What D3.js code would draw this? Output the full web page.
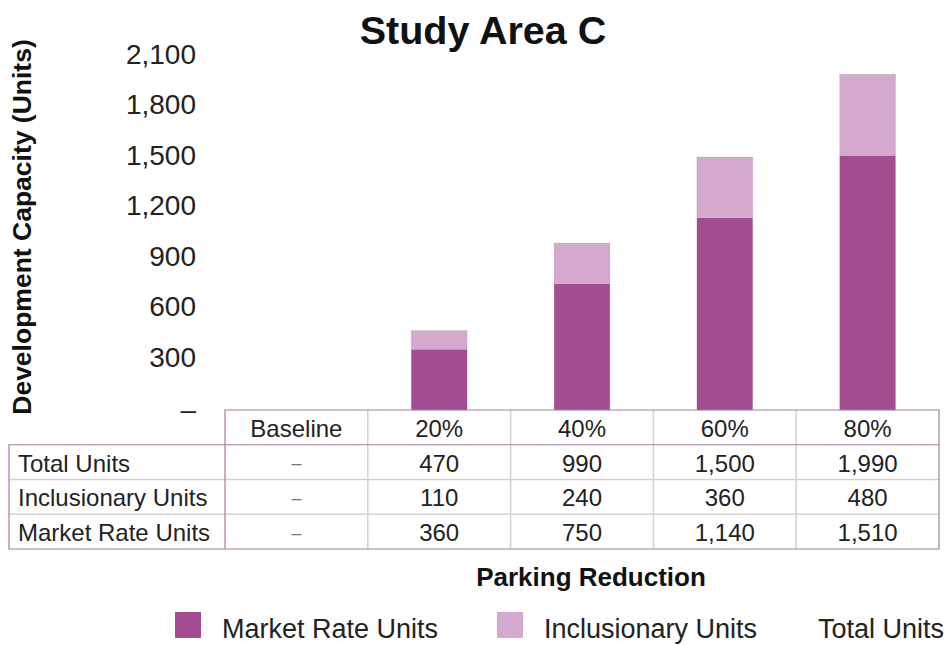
<!DOCTYPE html>
<html>
<head>
<meta charset="utf-8">
<script src="https://cdn.jsdelivr.net/npm/d3@7"></script>
<style>
  html, body { margin: 0; padding: 0; background: #fff; }
  svg { display: block; font-family: "Liberation Sans", Arial, Helvetica, sans-serif; }
</style>
</head>
<body>
<svg id="chart" width="945" height="645"></svg>
<script>
// Parking reduction scenarios and unit counts (null = no development)
const categories = ["Baseline", "20%", "40%", "60%", "80%"];
const marketRate = [null, 360, 750, 1140, 1510];
const inclusionary = [null, 110, 240, 360, 480];
const totalUnits = [null, 470, 990, 1500, 1990];
const yTicks = [0, 300, 600, 900, 1200, 1500, 1800, 2100];
const rowLabels = ["Total Units", "Inclusionary Units", "Market Rate Units"];
const rowSeries = [totalUnits, inclusionary, marketRate];
const legendItems = ["Market Rate Units", "Inclusionary Units", "Total Units"];

const colMarket = "#a24d91";
const colIncl = "#d5a9cd";
const borderCol = "#a77d9f";
const innerCol = "#d6cfd5";

const svg = d3.select("#chart");

const x = d3.scaleBand().domain(categories).range([225, 939]).padding(0);
const y = d3.scaleLinear().domain([0, 2100]).range([410, 56]);
const barW = x.bandwidth() * 0.39;
const fmt = d3.format(",");

// Title
svg.append("text")
  .attr("x", 483).attr("y", 30)
  .attr("text-anchor", "middle").attr("dominant-baseline", "central")
  .attr("font-size", 39.5).attr("font-weight", "bold").attr("fill", "#111")
  .text("Study Area C");

// Y axis title
svg.append("text")
  .attr("transform", "translate(22,227) rotate(-90)")
  .attr("text-anchor", "middle").attr("dominant-baseline", "central")
  .attr("font-size", 26.5).attr("font-weight", "bold").attr("fill", "#111")
  .text("Development Capacity (Units)");

// Y axis (labels only)
const yAxis = d3.axisLeft(y)
  .tickValues(yTicks)
  .tickSize(0)
  .tickPadding(0)
  .tickFormat(d => d === 0 ? "\u2013" : fmt(d));
const yg = svg.append("g").attr("transform", "translate(196,0)").call(yAxis);
yg.select(".domain").remove();
yg.selectAll("text")
  .attr("font-size", 28).attr("font-family", "\"Liberation Sans\", Arial, sans-serif")
  .attr("fill", "#222").attr("dy", d => d === 0 ? "0.3em" : "0.25em");

// Stacked bars
const bars = svg.append("g");
categories.forEach((c, i) => {
  if (marketRate[i] == null) return;
  const bx = x(c) + (x.bandwidth() - barW) / 2;
  bars.append("rect")
    .attr("x", bx).attr("width", barW)
    .attr("y", y(marketRate[i])).attr("height", y(0) - y(marketRate[i]))
    .attr("fill", colMarket);
  bars.append("rect")
    .attr("x", bx).attr("width", barW)
    .attr("y", y(totalUnits[i])).attr("height", y(marketRate[i]) - y(totalUnits[i]))
    .attr("fill", colIncl);
  // thin cap at the top of the stack
  bars.append("rect")
    .attr("x", bx).attr("width", barW)
    .attr("y", y(totalUnits[i])).attr("height", 2)
    .attr("fill", "#c7b9c3");
  // faint side edges
  bars.append("rect")
    .attr("x", bx).attr("width", barW)
    .attr("y", y(totalUnits[i])).attr("height", y(0) - y(totalUnits[i]))
    .attr("fill", "none").attr("stroke", "#8f4a84").attr("stroke-opacity", 0.18).attr("stroke-width", 1);
});

// Data table under the bars
const rows = d3.scaleBand().domain(["head", ...rowLabels]).range([410, 549]);
const table = svg.append("g");
const left = 9, right = 939;

// inner horizontal separators
rowLabels.slice(1).forEach(r => {
  table.append("line")
    .attr("x1", left).attr("x2", right)
    .attr("y1", rows(r)).attr("y2", rows(r))
    .attr("stroke", innerCol).attr("stroke-width", 1.5);
});
// vertical separators between value columns
categories.slice(1).forEach(c => {
  table.append("line")
    .attr("x1", x(c)).attr("x2", x(c))
    .attr("y1", rows("head")).attr("y2", 549)
    .attr("stroke", innerCol).attr("stroke-width", 1.5);
});
// outer borders
const bp = d3.path();
bp.moveTo(x("Baseline"), 549);
bp.lineTo(x("Baseline"), 410);
bp.lineTo(right, 410);
bp.lineTo(right, 549);
bp.lineTo(left, 549);
bp.lineTo(left, rows("Total Units"));
bp.lineTo(right, rows("Total Units"));
table.append("path").attr("d", bp.toString())
  .attr("fill", "none").attr("stroke", borderCol).attr("stroke-width", 1.2);

const cellFont = 24;
// header row
categories.forEach(c => {
  table.append("text")
    .attr("x", x(c) + x.bandwidth() / 2).attr("y", rows("head") + rows.bandwidth() / 2 + 1)
    .attr("text-anchor", "middle").attr("dominant-baseline", "central")
    .attr("font-size", cellFont).attr("fill", "#222")
    .text(c);
});
// data rows
rowLabels.forEach((r, ri) => {
  const cy = rows(r) + rows.bandwidth() / 2 + 1;
  table.append("text")
    .attr("x", 18).attr("y", cy)
    .attr("dominant-baseline", "central")
    .attr("font-size", cellFont).attr("fill", "#222")
    .text(r);
  categories.forEach((c, ci) => {
    const v = rowSeries[ri][ci];
    table.append("text")
      .attr("x", x(c) + x.bandwidth() / 2).attr("y", cy)
      .attr("text-anchor", "middle").attr("dominant-baseline", "central")
      .attr("font-size", v == null ? 18 : cellFont).attr("fill", v == null ? "#777" : "#222")
      .text(v == null ? "\u2013" : fmt(v));
  });
});

// X axis title
svg.append("text")
  .attr("x", 591).attr("y", 577)
  .attr("text-anchor", "middle").attr("dominant-baseline", "central")
  .attr("font-size", 26).attr("font-weight", "bold").attr("fill", "#111")
  .text("Parking Reduction");

// Legend
const legendX = [175, 497, 818];
const legendFill = [colMarket, colIncl, null];
const lg = svg.append("g");
legendItems.forEach((name, i) => {
  if (legendFill[i]) {
    lg.append("rect")
      .attr("x", legendX[i]).attr("y", 612).attr("width", 26).attr("height", 26)
      .attr("fill", legendFill[i]);
  }
  lg.append("text")
    .attr("x", legendFill[i] ? legendX[i] + 47 : legendX[i]).attr("y", 629)
    .attr("dominant-baseline", "central")
    .attr("font-size", 27).attr("fill", "#222")
    .text(name);
});
</script>
</body>
</html>
